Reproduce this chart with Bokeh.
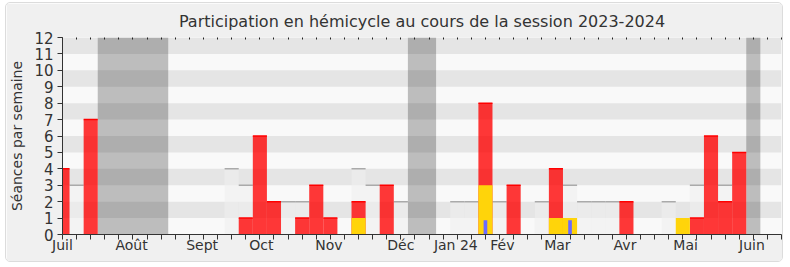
from bokeh.plotting import figure
from bokeh.models import Range1d, FixedTicker, LinearAxis
from bokeh.embed import file_html
from bokeh.resources import INLINE

# ---- data (weeks of the session, index 0 = first week of July 2023) ----
weeks = list(range(52))
holiday_weeks = [3, 4, 5, 6, 7, 25, 26, 49]

presence_weeks = [0, 2, 13, 14, 15, 17, 18, 19, 21, 23, 30, 32, 35, 40, 45, 46, 47, 48]
presence_values = [4, 7, 1, 6, 2, 1, 3, 1, 2, 3, 8, 3, 4, 2, 1, 6, 2, 5]

participation_weeks = [21, 30, 35, 36, 44]
participation_values = [1, 3, 1, 1, 1]

question_weeks = [30, 36]
question_values = [0.87, 0.87]

median_weeks = [1, 12, 13, 16, 17, 21, 22, 24, 28, 29, 31, 34, 36, 37, 38, 39, 43, 45, 47]
median_values = [3, 4, 3, 2, 2, 4, 3, 2, 2, 2, 2, 2, 3, 2, 2, 2, 2, 3, 3]

month_labels = ["Juil", "Août", "Sept", "Oct", "Nov", "Déc", "Jan 24", "Fév", "Mar", "Avr", "Mai", "Juin"]
month_positions = [0, 4.9, 9.9, 14.1, 18.9, 24.0, 27.9, 31.2, 35.1, 39.9, 44.2, 48.9]

y_ticks = list(range(13))

x_start, x_end = weeks[0], weeks[-1]
y_max = y_ticks[-1]

FONT = "DejaVu Sans"

# contiguous holiday spans
spans = []
for w in holiday_weeks:
    if spans and spans[-1][1] == w - 1:
        spans[-1][1] = w
    else:
        spans.append([w, w])
hol_left = [s[0] - 0.5 for s in spans]
hol_right = [s[1] + 0.5 for s in spans]

p = figure(width=778, height=260, output_backend="svg", toolbar_location=None,
           x_range=Range1d(x_start, x_end), y_range=Range1d(0, y_max),
           min_border_left=56, min_border_right=3, min_border_top=33, min_border_bottom=29)
p.styles = {"margin-left": "5px", "margin-top": "2px", "border": "1px solid #dcdcdc",
            "border-radius": "5px", "overflow": "hidden", "box-sizing": "border-box"}

p.background_fill_color = "#f9f9f9"
p.border_fill_color = "#f0f0f0"
p.outline_line_color = None
p.grid.visible = False

p.title.text = "Participation en hémicycle au cours de la session 2023-2024"
p.title.align = "center"
p.title.offset = 6
p.title.standoff = 13
p.title.text_font = FONT
p.title.text_font_size = "16px"
p.title.text_font_style = "normal"
p.title.text_color = "#333333"

# holidays
p.quad(left=hol_left, right=hol_right, bottom=0, top=y_max, fill_color="#bdbdbd", line_color=None)

# alternating bands
band_centers = [t + 0.5 for t in y_ticks[1:-1:2]]
p.hbar(y=band_centers, height=1, left=x_start - 1, right=x_end + 1,
       fill_color="black", fill_alpha=0.08, line_color=None)

# median participation of all deputies
p.vbar(x=median_weeks, width=1, bottom=0, top=median_values,
       fill_color="#efefef", fill_alpha=0.6, line_color=None)
p.segment(x0=[w - 0.5 for w in median_weeks], x1=[w + 0.5 for w in median_weeks],
          y0=median_values, y1=median_values, line_color="#aaaaaa", line_width=1.5)

# presences
p.vbar(x=presence_weeks, width=1, bottom=0, top=presence_values,
       fill_color="#ff0000", fill_alpha=0.78, line_color=None)
p.segment(x0=[w - 0.5 for w in presence_weeks], x1=[w + 0.5 for w in presence_weeks],
          y0=presence_values, y1=presence_values, line_color="#ff0000", line_width=1.5)

# participations
p.vbar(x=participation_weeks, width=1, bottom=0, top=participation_values,
       fill_color="#ffd40a", line_color=None)

# questions
p.vbar(x=question_weeks, width=0.26, bottom=0, top=question_values,
       fill_color="#6b6bff", line_color=None)

# axes
yax = p.yaxis[0]
yax.ticker = FixedTicker(ticks=y_ticks)
yax.axis_label = "Séances par semaine"
yax.axis_label_text_font = FONT
yax.axis_label_text_font_size = "14px"
yax.axis_label_text_font_style = "normal"
yax.axis_label_text_color = "#333333"
yax.axis_label_standoff = 6
yax.major_label_text_font = FONT
yax.major_label_text_font_size = "15px"
yax.major_label_text_color = "#333333"
yax.major_label_standoff = 4
yax.major_tick_out = 5
yax.major_tick_in = 0
yax.minor_tick_out = 0
yax.minor_tick_in = 0
yax.axis_line_color = "#333333"
yax.major_tick_line_color = "#333333"

xax = p.xaxis[0]
xax.ticker = FixedTicker(ticks=month_positions, minor_ticks=weeks)
xax.major_label_overrides = {pos: lab for pos, lab in zip(month_positions, month_labels)}
xax.major_label_text_font = FONT
xax.major_label_text_font_size = "14px"
xax.major_label_text_color = "#333333"
xax.major_label_standoff = -3
xax.major_tick_out = 0
xax.major_tick_in = 0
xax.minor_tick_out = 5
xax.minor_tick_in = 0
xax.axis_line_color = "#333333"
xax.minor_tick_line_color = "#333333"

top = LinearAxis(ticker=FixedTicker(ticks=weeks))
top.major_label_text_font_size = "0px"
top.major_label_standoff = 0
top.axis_line_color = None
top.major_tick_in = 2
top.major_tick_out = 0
top.minor_tick_in = 0
top.minor_tick_out = 0
top.major_tick_line_color = "#222222"
p.add_layout(top, "above")

open("out.html", "w").write(file_html(p, INLINE))
